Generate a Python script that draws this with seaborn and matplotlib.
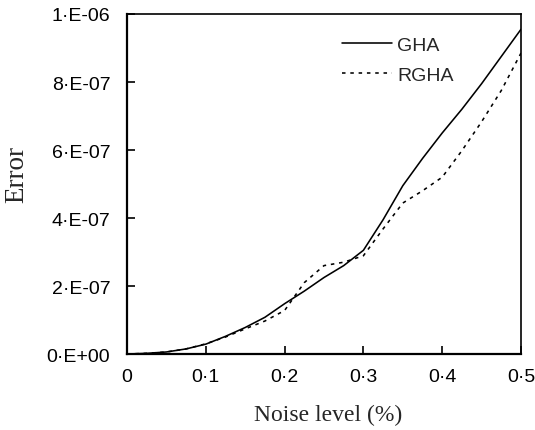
import numpy as np
import pandas as pd
import matplotlib
matplotlib.use("Agg")
import matplotlib.pyplot as plt
import seaborn as sns

# values (error in units of 1e-7)
noise = [0, 0.025, 0.05, 0.075, 0.1, 0.125, 0.15, 0.175, 0.2, 0.225, 0.25,
         0.275, 0.3, 0.325, 0.35, 0.375, 0.4, 0.425, 0.45, 0.475, 0.5]
gha = [0, 0.02, 0.06, 0.15, 0.29, 0.52, 0.78, 1.08, 1.48, 1.85, 2.25,
       2.60, 3.05, 3.95, 4.95, 5.75, 6.50, 7.20, 7.95, 8.75, 9.55]
rgha = [0, 0.02, 0.06, 0.15, 0.30, 0.50, 0.74, 0.97, 1.28, 2.10, 2.60,
        2.70, 2.89, 3.68, 4.44, 4.80, 5.20, 5.98, 6.83, 7.75, 8.85]
methods = ["GHA", "RGHA"]

xticks = [0, 0.1, 0.2, 0.3, 0.4, 0.5]
xtick_labels = ["0", "0·1", "0·2", "0·3", "0·4", "0·5"]
yticks = [0, 2e-7, 4e-7, 6e-7, 8e-7, 1e-6]
ytick_labels = ["0·E+00", "2·E-07", "4·E-07", "6·E-07", "8·E-07", "1·E-06"]

df = pd.DataFrame({
    "noise": noise * 2,
    "error": [v * 1e-7 for v in gha + rgha],
    "method": [methods[0]] * len(gha) + [methods[1]] * len(rgha),
})

sns.set_style("ticks")
plt.rcParams["font.family"] = ["Liberation Sans", "DejaVu Sans"]

fig = plt.figure(figsize=(5.35, 4.31), dpi=100)
ax = fig.add_axes([0.2374, 0.1763, 0.7364, 0.7889])

sns.lineplot(data=df, x="noise", y="error", style="method", ax=ax,
             color="black", linewidth=1.15,
             dashes={"GHA": "", "RGHA": (2.2, 3.0)})

ax.set_xlim(0, 0.5)
ax.set_ylim(0, 1e-6)
ax.set_xticks(xticks)
ax.set_xticklabels(xtick_labels, fontsize=14)
ax.set_yticks(yticks)
ax.set_yticklabels(ytick_labels, fontsize=14)
ax.tick_params(direction="in", length=6, width=1.2, colors="black")
ax.tick_params(axis="x", pad=10)
ax.tick_params(axis="y", pad=12)

for side in ["left", "bottom"]:
    ax.spines[side].set_linewidth(1.6)
for side in ["top", "right"]:
    ax.spines[side].set_visible(True)
    ax.spines[side].set_linewidth(1.2)
for sp in ax.spines.values():
    sp.set_color("black")

ax.set_xlabel("Noise level (%)", family="Liberation Serif", fontsize=17)
ax.set_ylabel("Error", family="Liberation Serif", fontsize=19.5)
ax.xaxis.set_label_coords(0.511, -0.148)
ax.yaxis.set_label_coords(-0.248, 0.532)

ax.legend(loc="upper left", bbox_to_anchor=(0.545, 0.935), frameon=False,
          fontsize=14, handlelength=2.6, handletextpad=0.25,
          labelspacing=0.65, borderpad=0, borderaxespad=0)

fig.savefig("out.png", dpi=100)
